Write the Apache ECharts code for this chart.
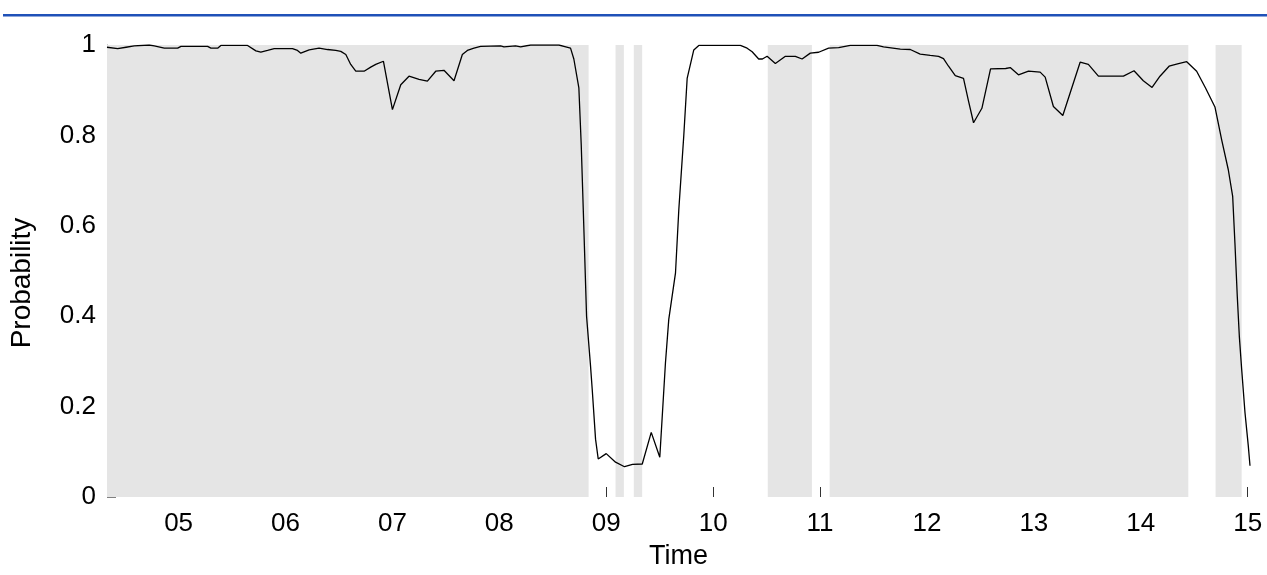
<!DOCTYPE html>
<html>
<head>
<meta charset="utf-8">
<script src="https://cdn.jsdelivr.net/npm/echarts@6/dist/echarts.min.js"></script>
<style>
html,body{margin:0;padding:0;background:#fff;}
#chart{width:1267px;height:575px;}
</style>
</head>
<body>
<div id="chart"></div>
<script>
// Time in decimal hours, probability values
const times = [4.330,4.342,4.430,4.508,4.585,4.725,4.772,4.866,4.991,5.022,5.271,5.302,5.365,5.395,5.645,5.723,5.769,5.832,5.894,6.065,6.112,6.143,6.221,6.314,6.393,6.470,6.517,6.564,6.610,6.657,6.735,6.797,6.844,6.916,7.000,7.078,7.155,7.249,7.327,7.405,7.482,7.576,7.654,7.701,7.763,7.825,8.012,8.043,8.152,8.199,8.293,8.557,8.604,8.666,8.697,8.744,8.766,8.791,8.816,8.853,8.869,8.900,8.925,9.000,9.087,9.171,9.246,9.337,9.421,9.501,9.554,9.585,9.648,9.679,9.725,9.757,9.819,9.866,10.255,10.318,10.365,10.426,10.461,10.505,10.582,10.676,10.769,10.832,10.909,10.987,11.080,11.174,11.283,11.533,11.594,11.751,11.844,11.937,12.031,12.109,12.155,12.202,12.265,12.342,12.389,12.436,12.514,12.595,12.737,12.779,12.856,12.950,13.059,13.106,13.183,13.271,13.433,13.510,13.604,13.838,13.937,14.024,14.106,14.180,14.265,14.344,14.430,14.523,14.606,14.694,14.757,14.819,14.860,14.881,14.903,14.922,14.944,14.975,15.006,15.022];
const probability = [0.995,0.994,0.992,0.995,0.998,1.000,0.998,0.993,0.993,0.997,0.997,0.993,0.993,0.999,0.999,0.987,0.984,0.988,0.992,0.992,0.988,0.982,0.989,0.993,0.990,0.988,0.986,0.979,0.957,0.942,0.942,0.951,0.957,0.964,0.857,0.912,0.931,0.924,0.920,0.942,0.944,0.921,0.979,0.988,0.993,0.997,0.998,0.996,0.998,0.996,1.000,1.000,0.997,0.993,0.969,0.905,0.780,0.592,0.400,0.290,0.238,0.128,0.084,0.096,0.077,0.067,0.072,0.073,0.143,0.088,0.297,0.393,0.496,0.636,0.798,0.926,0.989,0.999,0.999,0.993,0.985,0.969,0.969,0.975,0.959,0.975,0.975,0.969,0.982,0.984,0.993,0.994,0.999,0.999,0.996,0.991,0.990,0.980,0.977,0.975,0.970,0.953,0.932,0.926,0.876,0.828,0.860,0.947,0.948,0.950,0.934,0.942,0.940,0.929,0.864,0.844,0.962,0.957,0.931,0.931,0.943,0.921,0.906,0.931,0.953,0.958,0.963,0.942,0.905,0.863,0.790,0.724,0.665,0.562,0.444,0.356,0.283,0.187,0.113,0.069];
// shaded intervals (start hour, end hour)
const bandStarts = [4.330, 9.087, 9.258, 10.511, 11.090, 14.700];
const bandEnds   = [8.835, 9.165, 9.336, 10.924, 14.445, 14.944];
const xTicks = [5,6,7,8,9,10,11,12,13,14,15];
const yTicks = [0,0.2,0.4,0.6,0.8,1];

const lineData = times.map((t,i)=>[t, probability[i]]);
const bandData = bandStarts.map((s,i)=>[s, bandEnds[i]]);

const FONT = 'Liberation Sans, Arial, sans-serif';
const chart = echarts.init(document.getElementById('chart'), null, {renderer:'canvas'});
chart.setOption({
  animation:false,
  backgroundColor:'#fff',
  graphic:[{type:'rect', shape:{x:3,y:14,width:1264,height:2.5}, style:{fill:'#1f51b8'}, silent:true}],
  grid:{left:106, right:17, top:45, bottom:77},
  xAxis:{
    type:'value', min:4.33, max:15.022,
    name:'Time', nameLocation:'middle', nameGap:46,
    nameTextStyle:{color:'#000', fontSize:27, fontFamily:FONT},
    axisLine:{show:false},
    axisTick:{show:true, inside:true, length:10, customValues:xTicks, lineStyle:{color:'#333', width:1}},
    axisLabel:{customValues:xTicks, margin:14, color:'#000', fontSize:26, fontFamily:FONT,
      formatter:v=>String(Math.round(v)).padStart(2,'0')},
    splitLine:{show:false}
  },
  yAxis:{
    type:'value', min:0, max:1, interval:0.2,
    name:'Probability', nameLocation:'middle', nameGap:71,
    nameTextStyle:{color:'#000', fontSize:28, fontFamily:FONT, padding:[0,24,0,0]},
    axisLine:{show:true, lineStyle:{color:'#808080', width:1}},
    axisTick:{show:true, inside:true, length:9, lineStyle:{color:'#808080'}},
    axisLabel:{margin:11, color:'#000', fontSize:26, fontFamily:FONT,
      formatter:v=>String(yTicks.find(t=>Math.abs(t-v)<1e-9) ?? v)},
    splitLine:{show:false}
  },
  series:[
    {
      type:'custom', z:1, silent:true,
      data:bandData,
      renderItem:(params, api)=>{
        const p0 = api.coord([api.value(0), 1]);
        const p1 = api.coord([api.value(1), 0]);
        return {type:'rect', shape:{x:p0[0], y:p0[1], width:p1[0]-p0[0], height:p1[1]-p0[1]},
                style:{fill:'#e5e5e5'}};
      },
      encode:{x:[0,1]}
    },
    {
      type:'line', z:5, data:lineData, showSymbol:false, symbol:'none',
      lineStyle:{color:'#000', width:1.3}, silent:true
    }
  ]
});
</script>
</body>
</html>
